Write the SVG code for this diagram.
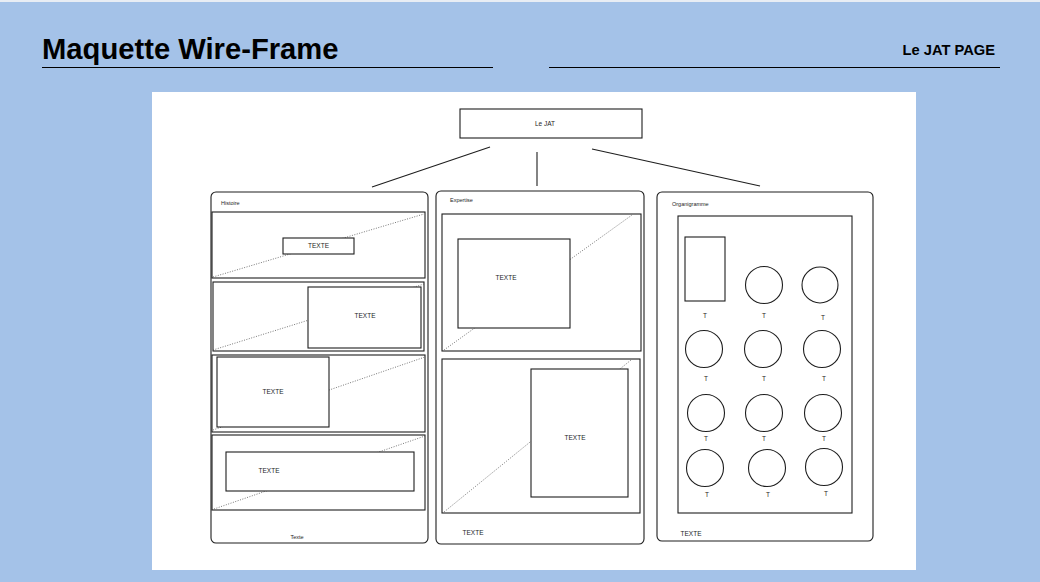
<svg xmlns="http://www.w3.org/2000/svg" width="1040" height="582" viewBox="0 0 1040 582">
<style>
.bg{fill:#a4c2e8}
.title{font-family:"Liberation Sans",Arial,sans-serif;font-weight:bold;fill:#000}
.sk{fill:#fff;stroke:#1e1e1e;stroke-width:1.1}
.fr{fill:none;stroke:#1e1e1e;stroke-width:1.1}
.dot{fill:none;stroke:#555;stroke-width:0.8;stroke-dasharray:1 1.5}
.t{font-family:"Liberation Sans",Arial,sans-serif;font-size:6.5px;fill:#1e1e1e}
.lbl{font-family:"Liberation Sans",Arial,sans-serif;font-size:5.5px;fill:#1e1e1e}
.conn line{stroke:#1e1e1e;stroke-width:1.1}
.c{fill:#fff;stroke:#1e1e1e;stroke-width:1.1}
</style>
<rect class="bg" x="0" y="0" width="1040" height="582"/>
<rect x="0" y="0" width="1040" height="2" fill="#e8edf4"/>
<g id="header">
<text class="title" x="42" y="59" font-size="29.2">Maquette Wire-Frame</text>
<line x1="42" y1="67.5" x2="493" y2="67.5" stroke="#000" stroke-width="1.2"/>
<text class="title" x="995" y="55" font-size="14.7" text-anchor="end">Le JAT PAGE</text>
<line x1="549" y1="67.5" x2="1000" y2="67.5" stroke="#000" stroke-width="1.2"/>
</g>
<rect id="panel" x="152" y="92" width="764" height="478" fill="#fff"/>
<g id="top-node">
<rect class="sk" x="460" y="109" width="182" height="29"/>
<text class="t" x="545" y="126" text-anchor="middle">Le JAT</text>
</g>
<g id="connectors" class="conn">
<line x1="490" y1="147" x2="372" y2="187"/>
<line x1="537" y1="152" x2="537" y2="186"/>
<line x1="592" y1="149" x2="760" y2="186"/>
</g>
<g id="histoire">
<rect class="sk" x="211" y="192" width="217" height="351" rx="5"/>
<text class="lbl" x="221" y="205">Histoire</text>
<rect class="fr" x="212" y="212" width="213" height="66"/>
<line class="dot" x1="213" y1="277" x2="424" y2="214"/>
<rect class="sk" x="283" y="238" width="71" height="16"/>
<text class="t" x="318.5" y="248" text-anchor="middle">TEXTE</text>
<rect class="fr" x="213" y="282" width="211" height="69"/>
<line class="dot" x1="213" y1="350" x2="424" y2="284"/>
<rect class="sk" x="308" y="287" width="113" height="61"/>
<text class="t" x="365" y="318" text-anchor="middle">TEXTE</text>
<rect class="fr" x="212" y="355" width="213" height="77"/>
<line class="dot" x1="213" y1="430" x2="425" y2="357"/>
<rect class="sk" x="217" y="357" width="112" height="70"/>
<text class="t" x="273" y="394" text-anchor="middle">TEXTE</text>
<rect class="fr" x="212" y="435" width="213" height="75"/>
<line class="dot" x1="214" y1="509" x2="425" y2="436"/>
<rect class="sk" x="226" y="452" width="188" height="39"/>
<text class="t" x="269" y="473" text-anchor="middle">TEXTE</text>
<text class="lbl" x="297" y="539" text-anchor="middle">Texte</text>
</g>
<g id="expertise">
<rect class="sk" x="436" y="191" width="208" height="353" rx="5"/>
<text class="lbl" x="450" y="202">Expertise</text>
<rect class="fr" x="442" y="214" width="199" height="137"/>
<line class="dot" x1="444" y1="350" x2="632" y2="215"/>
<rect class="sk" x="458" y="239" width="112" height="89"/>
<text class="t" x="506" y="280" text-anchor="middle">TEXTE</text>
<rect class="fr" x="442" y="359" width="198" height="154"/>
<line class="dot" x1="444" y1="512" x2="631" y2="360"/>
<rect class="sk" x="531" y="369" width="97" height="128"/>
<text class="t" x="575" y="440" text-anchor="middle">TEXTE</text>
<text class="t" x="473" y="535" text-anchor="middle">TEXTE</text>
</g>
<g id="organigramme">
<rect class="sk" x="657" y="192" width="216" height="349" rx="5"/>
<text class="lbl" x="672" y="206">Organigramme</text>
<rect class="fr" x="678" y="216" width="174" height="297"/>
<rect class="sk" x="685" y="237" width="40" height="64"/>
<circle class="c" cx="764" cy="285" r="18.5"/>
<circle class="c" cx="820" cy="285" r="18"/>
<text class="t" x="705" y="318" text-anchor="middle">T</text>
<text class="t" x="764" y="318" text-anchor="middle">T</text>
<text class="t" x="823" y="320" text-anchor="middle">T</text>
<circle class="c" cx="704" cy="349" r="18.5"/>
<circle class="c" cx="763" cy="349" r="18.5"/>
<circle class="c" cx="822" cy="349" r="18.5"/>
<text class="t" x="706" y="381" text-anchor="middle">T</text>
<text class="t" x="764" y="381" text-anchor="middle">T</text>
<text class="t" x="824" y="381" text-anchor="middle">T</text>
<circle class="c" cx="706" cy="413" r="18.5"/>
<circle class="c" cx="764" cy="413" r="18.5"/>
<circle class="c" cx="823" cy="413" r="18.5"/>
<text class="t" x="706" y="441" text-anchor="middle">T</text>
<text class="t" x="764" y="441" text-anchor="middle">T</text>
<text class="t" x="824" y="441" text-anchor="middle">T</text>
<circle class="c" cx="705" cy="468" r="18.5"/>
<circle class="c" cx="767" cy="468" r="18.5"/>
<circle class="c" cx="824" cy="467" r="18.5"/>
<text class="t" x="707" y="497" text-anchor="middle">T</text>
<text class="t" x="768" y="497" text-anchor="middle">T</text>
<text class="t" x="826" y="496" text-anchor="middle">T</text>
<text class="t" x="691" y="536" text-anchor="middle">TEXTE</text>
</g>
</svg>
